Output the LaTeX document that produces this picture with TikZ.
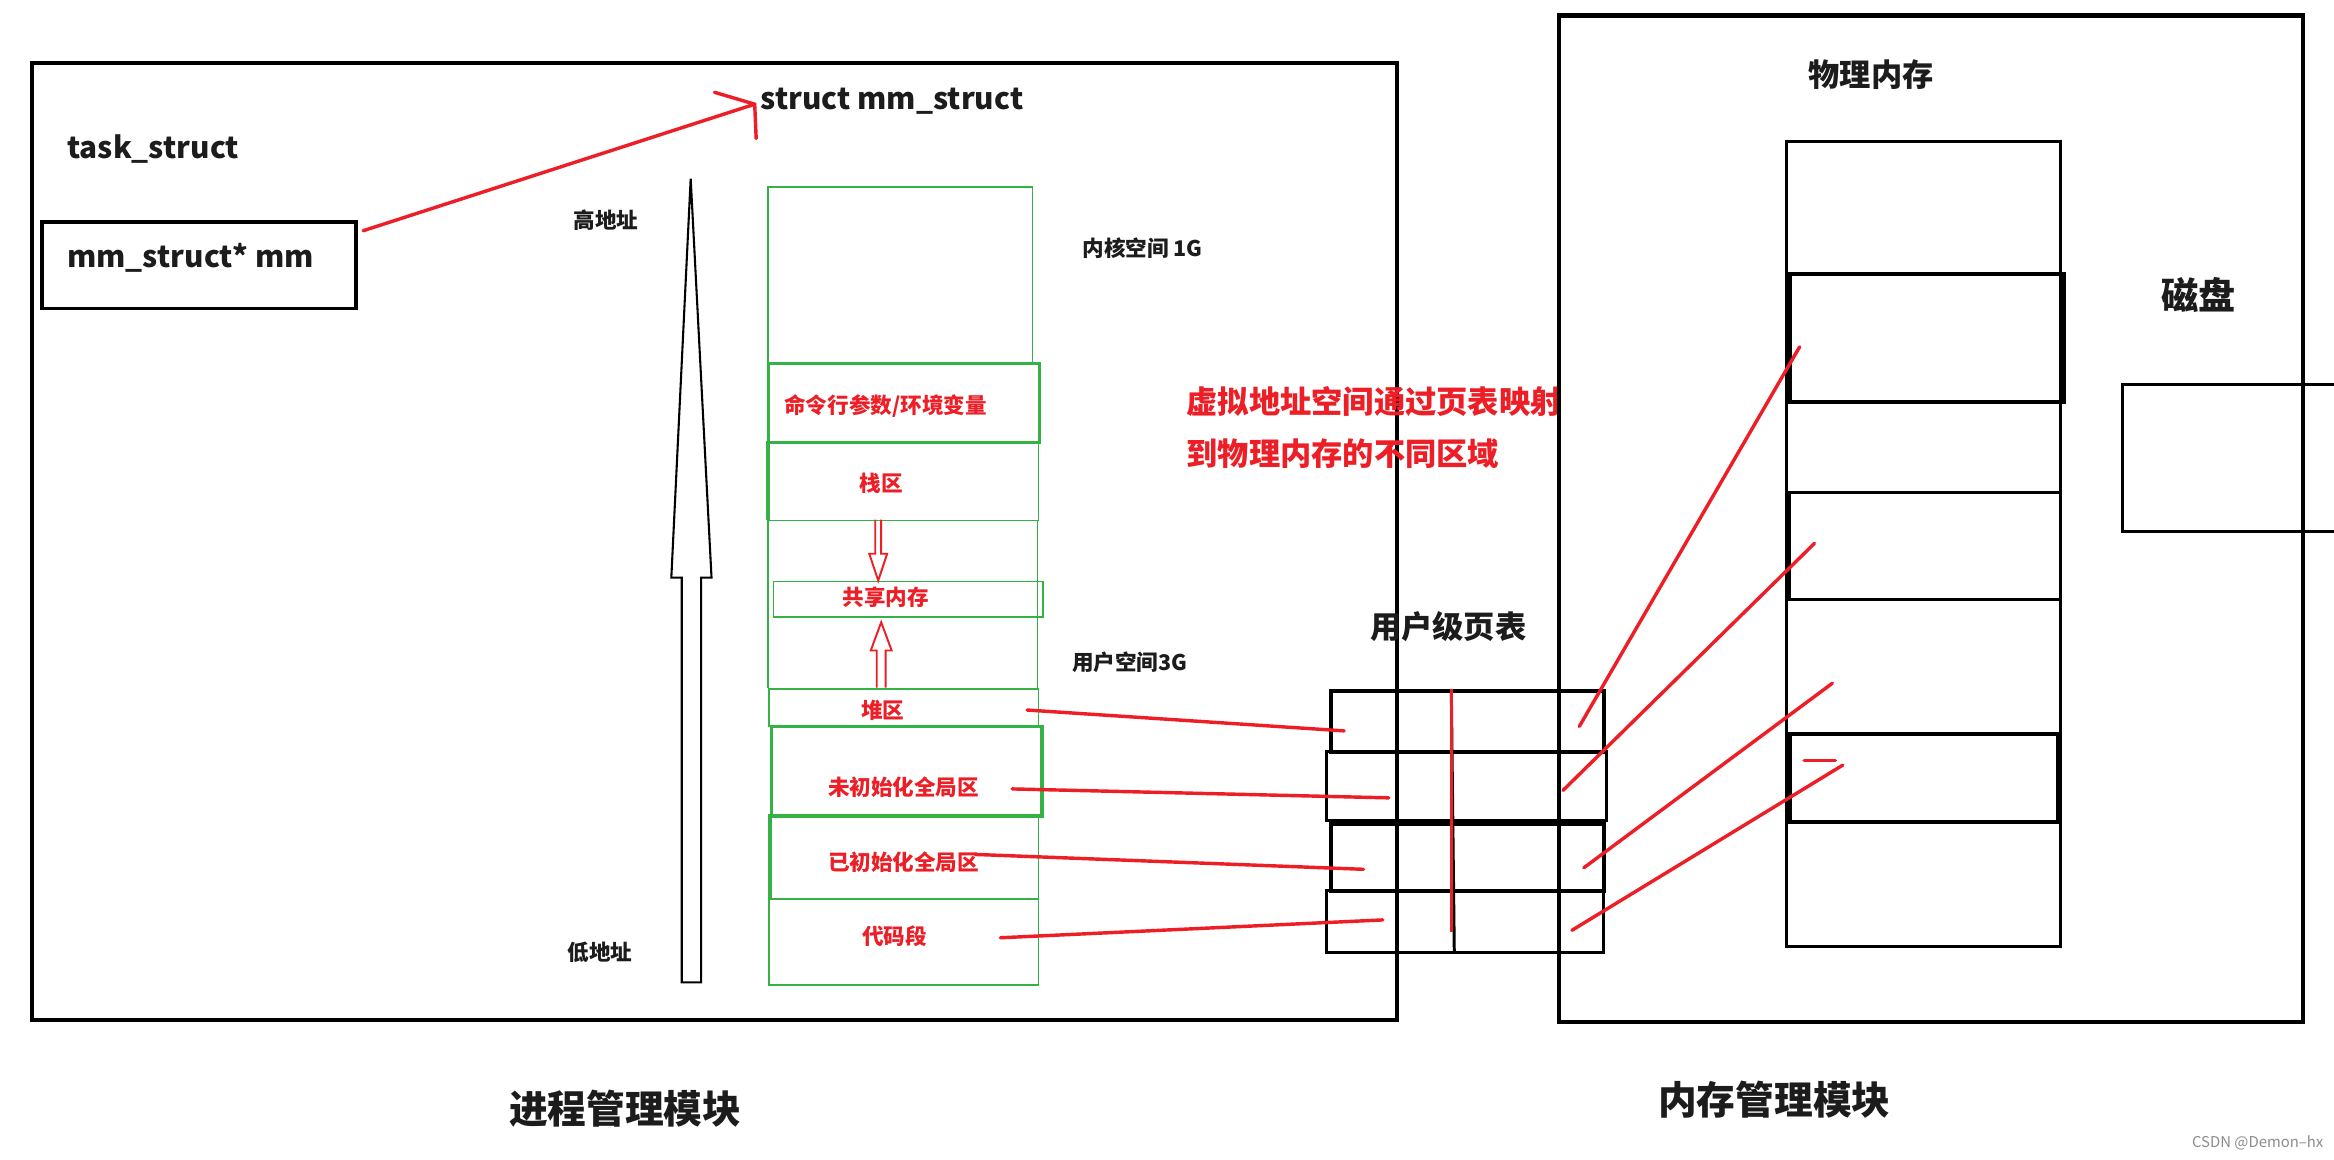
\documentclass[tikz,border=0pt]{standalone}
\usepackage{fontspec}
\setmainfont{Noto Sans CJK SC}
\definecolor{pen}{RGB}{237,30,38}
\definecolor{grn}{RGB}{52,178,70}
\definecolor{ink}{RGB}{28,28,28}
\begin{document}
\begin{tikzpicture}[x=1pt,y=-1pt,
  frame/.style={draw=black,line width=2.8pt,rectangle,inner sep=0pt,anchor=north west},
  bbox/.style={draw=black,line width=2pt,rectangle,inner sep=0pt,anchor=north west},
  gbox/.style={draw=grn,line width=1.3pt,rectangle,inner sep=0pt,anchor=north west},
  gthick/.style={draw=grn,line width=2.4pt,rectangle,inner sep=0pt,anchor=north west},
  redline/.style={draw=pen,line width=2.3pt,line cap=round},
  hollowblack/.style={draw=black,line width=1.4pt,line join=miter},
  hollowred/.style={draw=pen,line width=1.3pt,line join=miter},
  tlat/.style={text=ink,font=\fontsize{20pt}{24pt}\selectfont\bfseries,inner sep=0pt},
  tsm/.style={text=ink,font=\fontsize{14.5pt}{17pt}\selectfont\bfseries,inner sep=0pt},
  tred/.style={text=pen,font=\fontsize{14.5pt}{17pt}\selectfont\bfseries,inner sep=0pt},
  tredbig/.style={text=pen,font=\fontsize{21pt}{25pt}\selectfont\bfseries,inner sep=0pt},
  tbig/.style={text=ink,font=\fontsize{21pt}{25pt}\selectfont\bfseries,inner sep=0pt},
  thuge/.style={text=ink,font=\fontsize{26pt}{30pt}\selectfont\bfseries,inner sep=0pt}]
\useasboundingbox[fill=white] (0,0) rectangle (1568,779);

% ---------- process module frame ----------
\node[frame,minimum width=917pt,minimum height=643pt] (proc) at (20,41) {};
\node[tlat,anchor=west] (task) at (45,100) {task\_struct};
\node[bbox,line width=2.4pt,minimum width=211pt,minimum height=58pt] (mmbox) at (27,148) {};
\node[tlat,anchor=west] (mmptr) at (45,173) {mm\_struct* mm};
\node[tlat,anchor=west] (mmstruct) at (511,68) {struct mm\_struct};

% pointer arrow (hand drawn)
\coordinate (pstart) at (244,155);
\coordinate (ptip) at (507,70);
\coordinate (pa) at (480,62);
\coordinate (pb) at (508,93);
\draw[redline] (pstart) -- (ptip);
\draw[redline] (pa) -- (ptip) -- (pb);

% ---------- address arrow ----------
\draw[hollowblack] (458,660) -- (458,388) -- (451,388) -- (464,120) -- (478,388) -- (471,388) -- (471,660) -- cycle;
\node[tsm] (high) at (407,148) {高地址};
\node[tsm] (low) at (403,640) {低地址};

% ---------- virtual address space ----------
\node[gbox,minimum width=178pt,minimum height=118pt] (kern) at (515,125) {};
\node[gthick,minimum width=182pt,minimum height=53pt] (args) at (515,243) {};
\node[tred] at (595,273) {命令行参数/环境变量};
\node[gbox,minimum width=181pt,minimum height=53pt] (stack) at (516,296) {};
\draw[grn,line width=2.2pt] (516,296) -- (516,349);
\node[tred] at (592,325) {栈区};
\draw[grn,line width=1.3pt] (516,349) -- (516,462);
\draw[grn,line width=1.3pt] (697,349) -- (697,462);
\node[gbox,minimum width=181pt,minimum height=24pt] (shm) at (519,390) {};
\node[tred] at (595,401) {共享内存};
\node[gbox,minimum width=181pt,minimum height=25pt] (heap) at (516,462) {};
\node[tred] at (593,477) {堆区};
\node[gthick,minimum width=182pt,minimum height=60pt] (bss) at (517,487) {};
\node[tred] at (607,529) {未初始化全局区};
\node[gbox,minimum width=180pt,minimum height=56pt] (data) at (517,547) {};
\draw[grn,line width=2.2pt] (517,547) -- (517,603);
\node[tred] at (607,579) {已初始化全局区};
\node[gbox,minimum width=181pt,minimum height=58pt] (text) at (516,603) {};
\node[tred] at (601,629) {代码段};

% stack / heap growth arrows
\draw[hollowred] (588,349) -- (588,372) -- (584,372) -- (590,390) -- (596,372) -- (592,372) -- (592,349);
\draw[hollowred] (589,462) -- (589,437) -- (585,437) -- (592,418) -- (599,437) -- (595,437) -- (595,462);

\node[tsm,anchor=west] (kspace) at (727,167) {内核空间 1G};
\node[tsm,anchor=west] (uspace) at (720,445) {用户空间3G};

\node[tredbig,anchor=west] (note1) at (797,270) {虚拟地址空间通过页表映射};
\node[tredbig,anchor=west] (note2) at (797,305) {到物理内存的不同区域};

% ---------- memory module frame ----------
\node[frame,minimum width=500pt,minimum height=676pt] (memmod) at (1046,9) {};
\node[tbig] (phys) at (1257,50) {物理内存};
\node[bbox,minimum width=184pt,minimum height=541pt] (pcol) at (1199,94) {};
\node[bbox,line width=2.6pt,minimum width=184pt,minimum height=86pt] (pf1) at (1201,183) {};
\node[bbox,minimum width=182pt,minimum height=72pt] (pf2) at (1201,330) {};
\node[bbox,line width=2.6pt,minimum width=180pt,minimum height=59pt] (pf3) at (1201,492) {};
\node[thuge,font=\fontsize{25pt}{29pt}\selectfont\bfseries] (disk) at (1477,198) {磁盘};
\node[bbox,minimum width=160pt,minimum height=99pt] (diskbox) at (1425,257) {};

% ---------- page table ----------
\node[tbig] (ptlabel) at (973,421) {用户级页表};
\node[bbox,line width=2.6pt,minimum width=183pt,minimum height=41pt] (pt1) at (893,463) {};
\node[bbox,minimum width=188pt,minimum height=46pt] (pt2) at (890,504) {};
\node[bbox,line width=2.6pt,minimum width=183pt,minimum height=45pt] (pt3) at (893,552) {};
\node[bbox,minimum width=186pt,minimum height=42pt] (pt4) at (890,597) {};
\coordinate (mtop) at (975,463);
\coordinate (mbot) at (977,640);
\coordinate (mred) at (975,626);
\draw[black,line width=2pt] (mtop) -- (mbot);
\draw[pen,line width=1.6pt] (mtop) -- (mred);

% ---------- mapping lines ----------
\coordinate (h0) at (690,477);  \coordinate (h1) at (903,491);
\coordinate (b0) at (680,530);  \coordinate (b1) at (933,536);
\coordinate (d0) at (655,574);  \coordinate (d1) at (916,584);
\coordinate (c0) at (672,630);  \coordinate (c1) at (929,618);
\draw[redline] (h0) -- (h1);
\draw[redline] (b0) -- (b1);
\draw[redline] (d0) -- (d1);
\draw[redline] (c0) -- (c1);

\coordinate (r1a) at (1061,488); \coordinate (r1b) at (1209,233);
\coordinate (r2a) at (1050,531); \coordinate (r2b) at (1219,365);
\coordinate (r3a) at (1064,583); \coordinate (r3b) at (1231,459);
\coordinate (r4a) at (1056,625); \coordinate (r4b) at (1238,514);
\coordinate (sd1) at (1212,511); \coordinate (sd2) at (1233,511);
\draw[redline] (r1a) -- (r1b);
\draw[redline] (r2a) -- (r2b);
\draw[redline] (r3a) -- (r3b);
\draw[redline] (r4a) -- (r4b);
\draw[redline] (sd1) -- (sd2);

% ---------- module titles ----------
\node[thuge] (procname) at (420,745) {进程管理模块};
\node[thuge] (memname) at (1192,739) {内存管理模块};
\node[text=black!45,font=\fontsize{10pt}{12pt}\selectfont,inner sep=0pt,anchor=east] (wm) at (1561,768) {CSDN @Demon--hx};
\end{tikzpicture}
\end{document}
